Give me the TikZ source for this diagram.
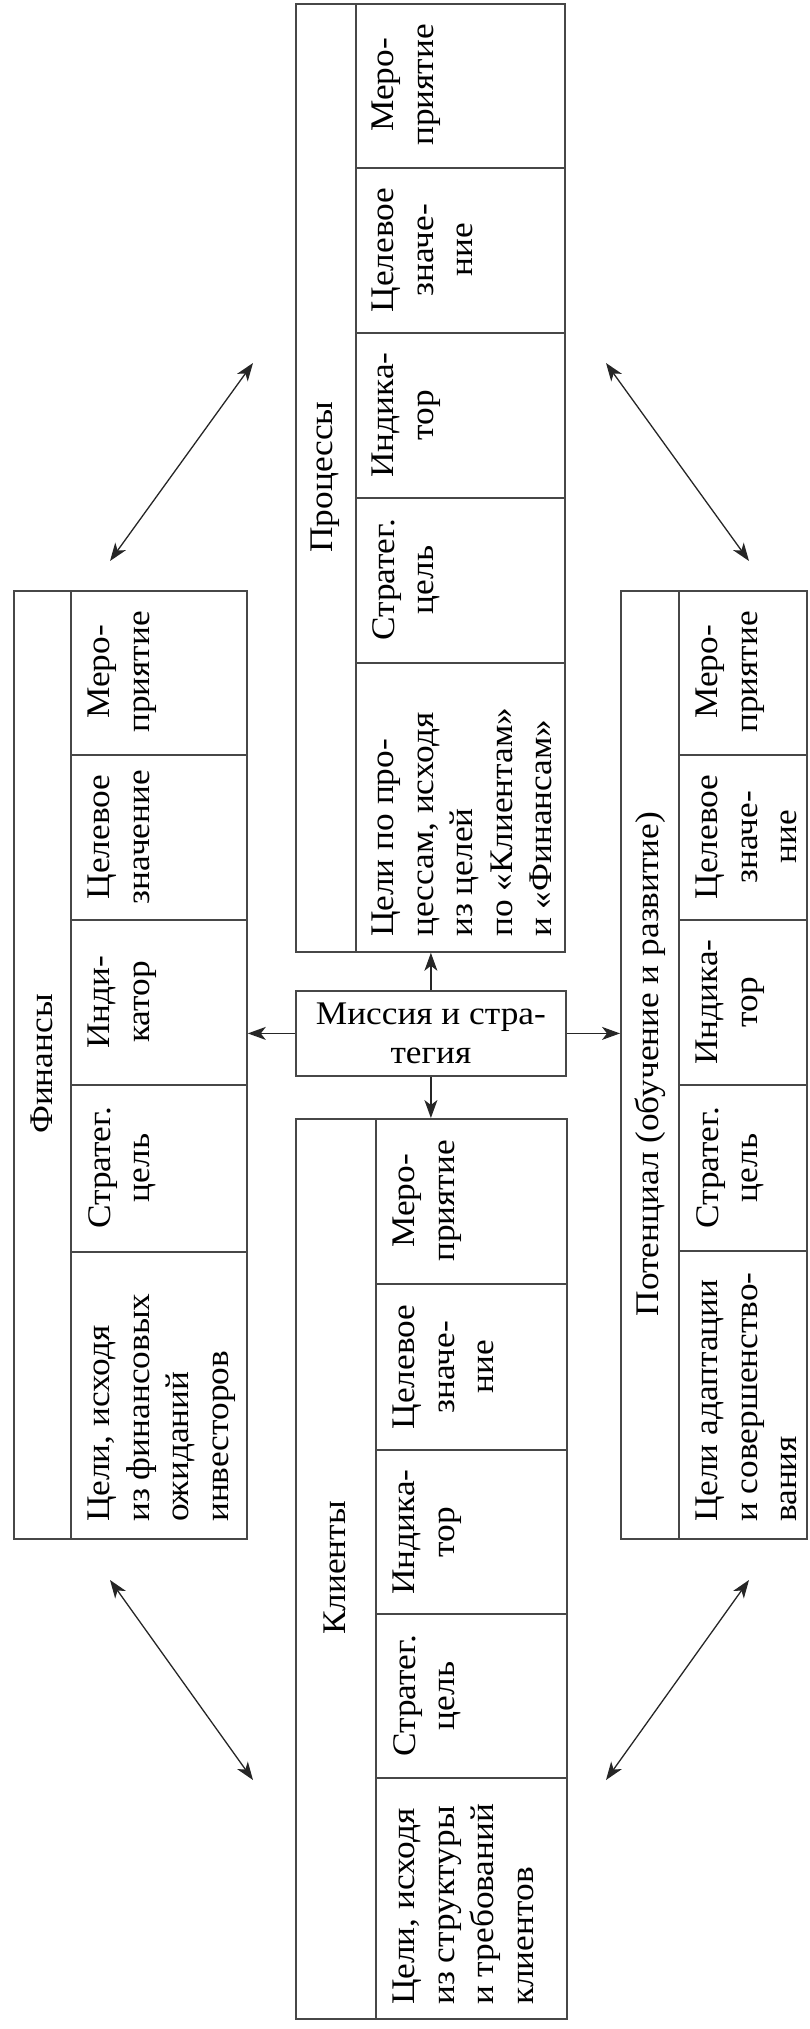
\documentclass[tikz,border=0pt]{standalone}
\usepackage{fontspec}
\setmainfont[FakeStretch=1.07]{Liberation Serif}
\usetikzlibrary{arrows.meta}
\newcommand{\dgfont}{\fontsize{33}{39.5}\selectfont}
\begin{document}
\begin{tikzpicture}[x=1pt,y=-1pt,
  box/.style={draw=black!72, line width=1.8pt, rectangle, inner sep=0pt},
  ln/.style={draw=black!72, line width=1.8pt},
  cell/.style={rotate=90, inner sep=0pt, align=center, anchor=north, font=\dgfont},
  goal/.style={rotate=90, inner sep=0pt, align=left, anchor=north west, font=\dgfont},
  head/.style={rotate=90, inner sep=0pt, anchor=center, font=\dgfont},
  arr/.style={draw=black!85, line width=1.3pt, -{Stealth[length=18pt,width=13pt,inset=5pt]}},
  darr/.style={draw=black!85, line width=1.3pt, {Stealth[length=18pt,width=13pt,inset=5pt]}-{Stealth[length=18pt,width=13pt,inset=5pt]}},
]
\useasboundingbox (0,0) rectangle (810,2029);

% ---------- Finance ----------
\node[box, minimum width=233pt, minimum height=948pt, anchor=north west] (fin) at (13,590) {};
\draw[ln] (71,590) -- (71,1538);
\foreach \yy in {755,920,1085,1252} \draw[ln] (71,\yy) -- (246,\yy);
\node[head] (finh) at (42,1064) {Финансы};
\node[cell] (fin1) at (88,672) {Меро-\\приятие};
\node[cell] (fin2) at (88,837) {Целевое\\значение};
\node[cell] (fin3) at (88,1002) {Инди-\\катор};
\node[cell] (fin4) at (88,1168) {Стратег.\\цель};
\node[goal] (fin5) at (88,1522) {Цели, исходя\\из финансовых\\ожиданий\\инвесторов};

% ---------- Processes ----------
\node[box, minimum width=269pt, minimum height=948pt, anchor=north west] (proc) at (295,3) {};
\draw[ln] (356,3) -- (356,951);
\foreach \yy in {168,333,498,663} \draw[ln] (356,\yy) -- (564,\yy);
\node[head] (proch) at (325,477) {Процессы};
\node[cell] (proc1) at (372,85) {Меро-\\приятие};
\node[cell] (proc2) at (372,250) {Целевое\\значе-\\ние};
\node[cell] (proc3) at (372,415) {Индика-\\тор};
\node[cell] (proc4) at (372,580) {Стратег.\\цель};
\node[goal] (proc5) at (372,937) {Цели по про-\\цессам, исходя\\из целей\\по «Клиентам»\\и «Финансам»};

% ---------- Mission ----------
\node[box, minimum width=270pt, minimum height=85pt, anchor=north west, align=center, font=\dgfont] (mis) at (295,990) {Миссия и стра-\\тегия};

% ---------- Clients ----------
\node[box, minimum width=271pt, minimum height=900pt, anchor=north west] (cli) at (295,1118) {};
\draw[ln] (376,1118) -- (376,2018);
\foreach \yy in {1284,1450,1614,1778} \draw[ln] (376,\yy) -- (566,\yy);
\node[head] (clih) at (335,1568) {Клиенты};
\node[cell] (cli1) at (393,1201) {Меро-\\приятие};
\node[cell] (cli2) at (393,1367) {Целевое\\значе-\\ние};
\node[cell] (cli3) at (393,1532) {Индика-\\тор};
\node[cell] (cli4) at (393,1696) {Стратег.\\цель};
\node[goal] (cli5) at (393,2005) {Цели, исходя\\из структуры\\и требований\\клиентов};

% ---------- Potential ----------
\node[box, minimum width=186pt, minimum height=948pt, anchor=north west] (pot) at (620,590) {};
\draw[ln] (679,590) -- (679,1538);
\foreach \yy in {755,920,1085,1251} \draw[ln] (679,\yy) -- (806,\yy);
\node[head] (poth) at (650,1064) {Потенциал (обучение и развитие)};
\node[cell] (pot1) at (696,672) {Меро-\\приятие};
\node[cell] (pot2) at (696,837) {Целевое\\значе-\\ние};
\node[cell] (pot3) at (696,1002) {Индика-\\тор};
\node[cell] (pot4) at (696,1168) {Стратег.\\цель};
\node[goal] (pot5) at (696,1522) {Цели адаптации\\и совершенство-\\вания};

% ---------- Connectors ----------
\draw[arr] (mis.west) -- (mis.west -| fin.east);
\draw[arr] (mis.east) -- (mis.east -| pot.west);
\draw[arr] (mis.north) -- (mis.north |- proc.south);
\draw[arr] (mis.south) -- (mis.south |- cli.north);

\coordinate (tla) at (110,561);
\coordinate (tlb) at (253,363);
\coordinate (tra) at (606,363);
\coordinate (trb) at (749,561);
\coordinate (bla) at (110,1580);
\coordinate (blb) at (253,1780);
\coordinate (bra) at (749,1580);
\coordinate (brb) at (606,1780);
\draw[darr] (tla) -- (tlb);
\draw[darr] (tra) -- (trb);
\draw[darr] (bla) -- (blb);
\draw[darr] (bra) -- (brb);
\end{tikzpicture}
\end{document}
